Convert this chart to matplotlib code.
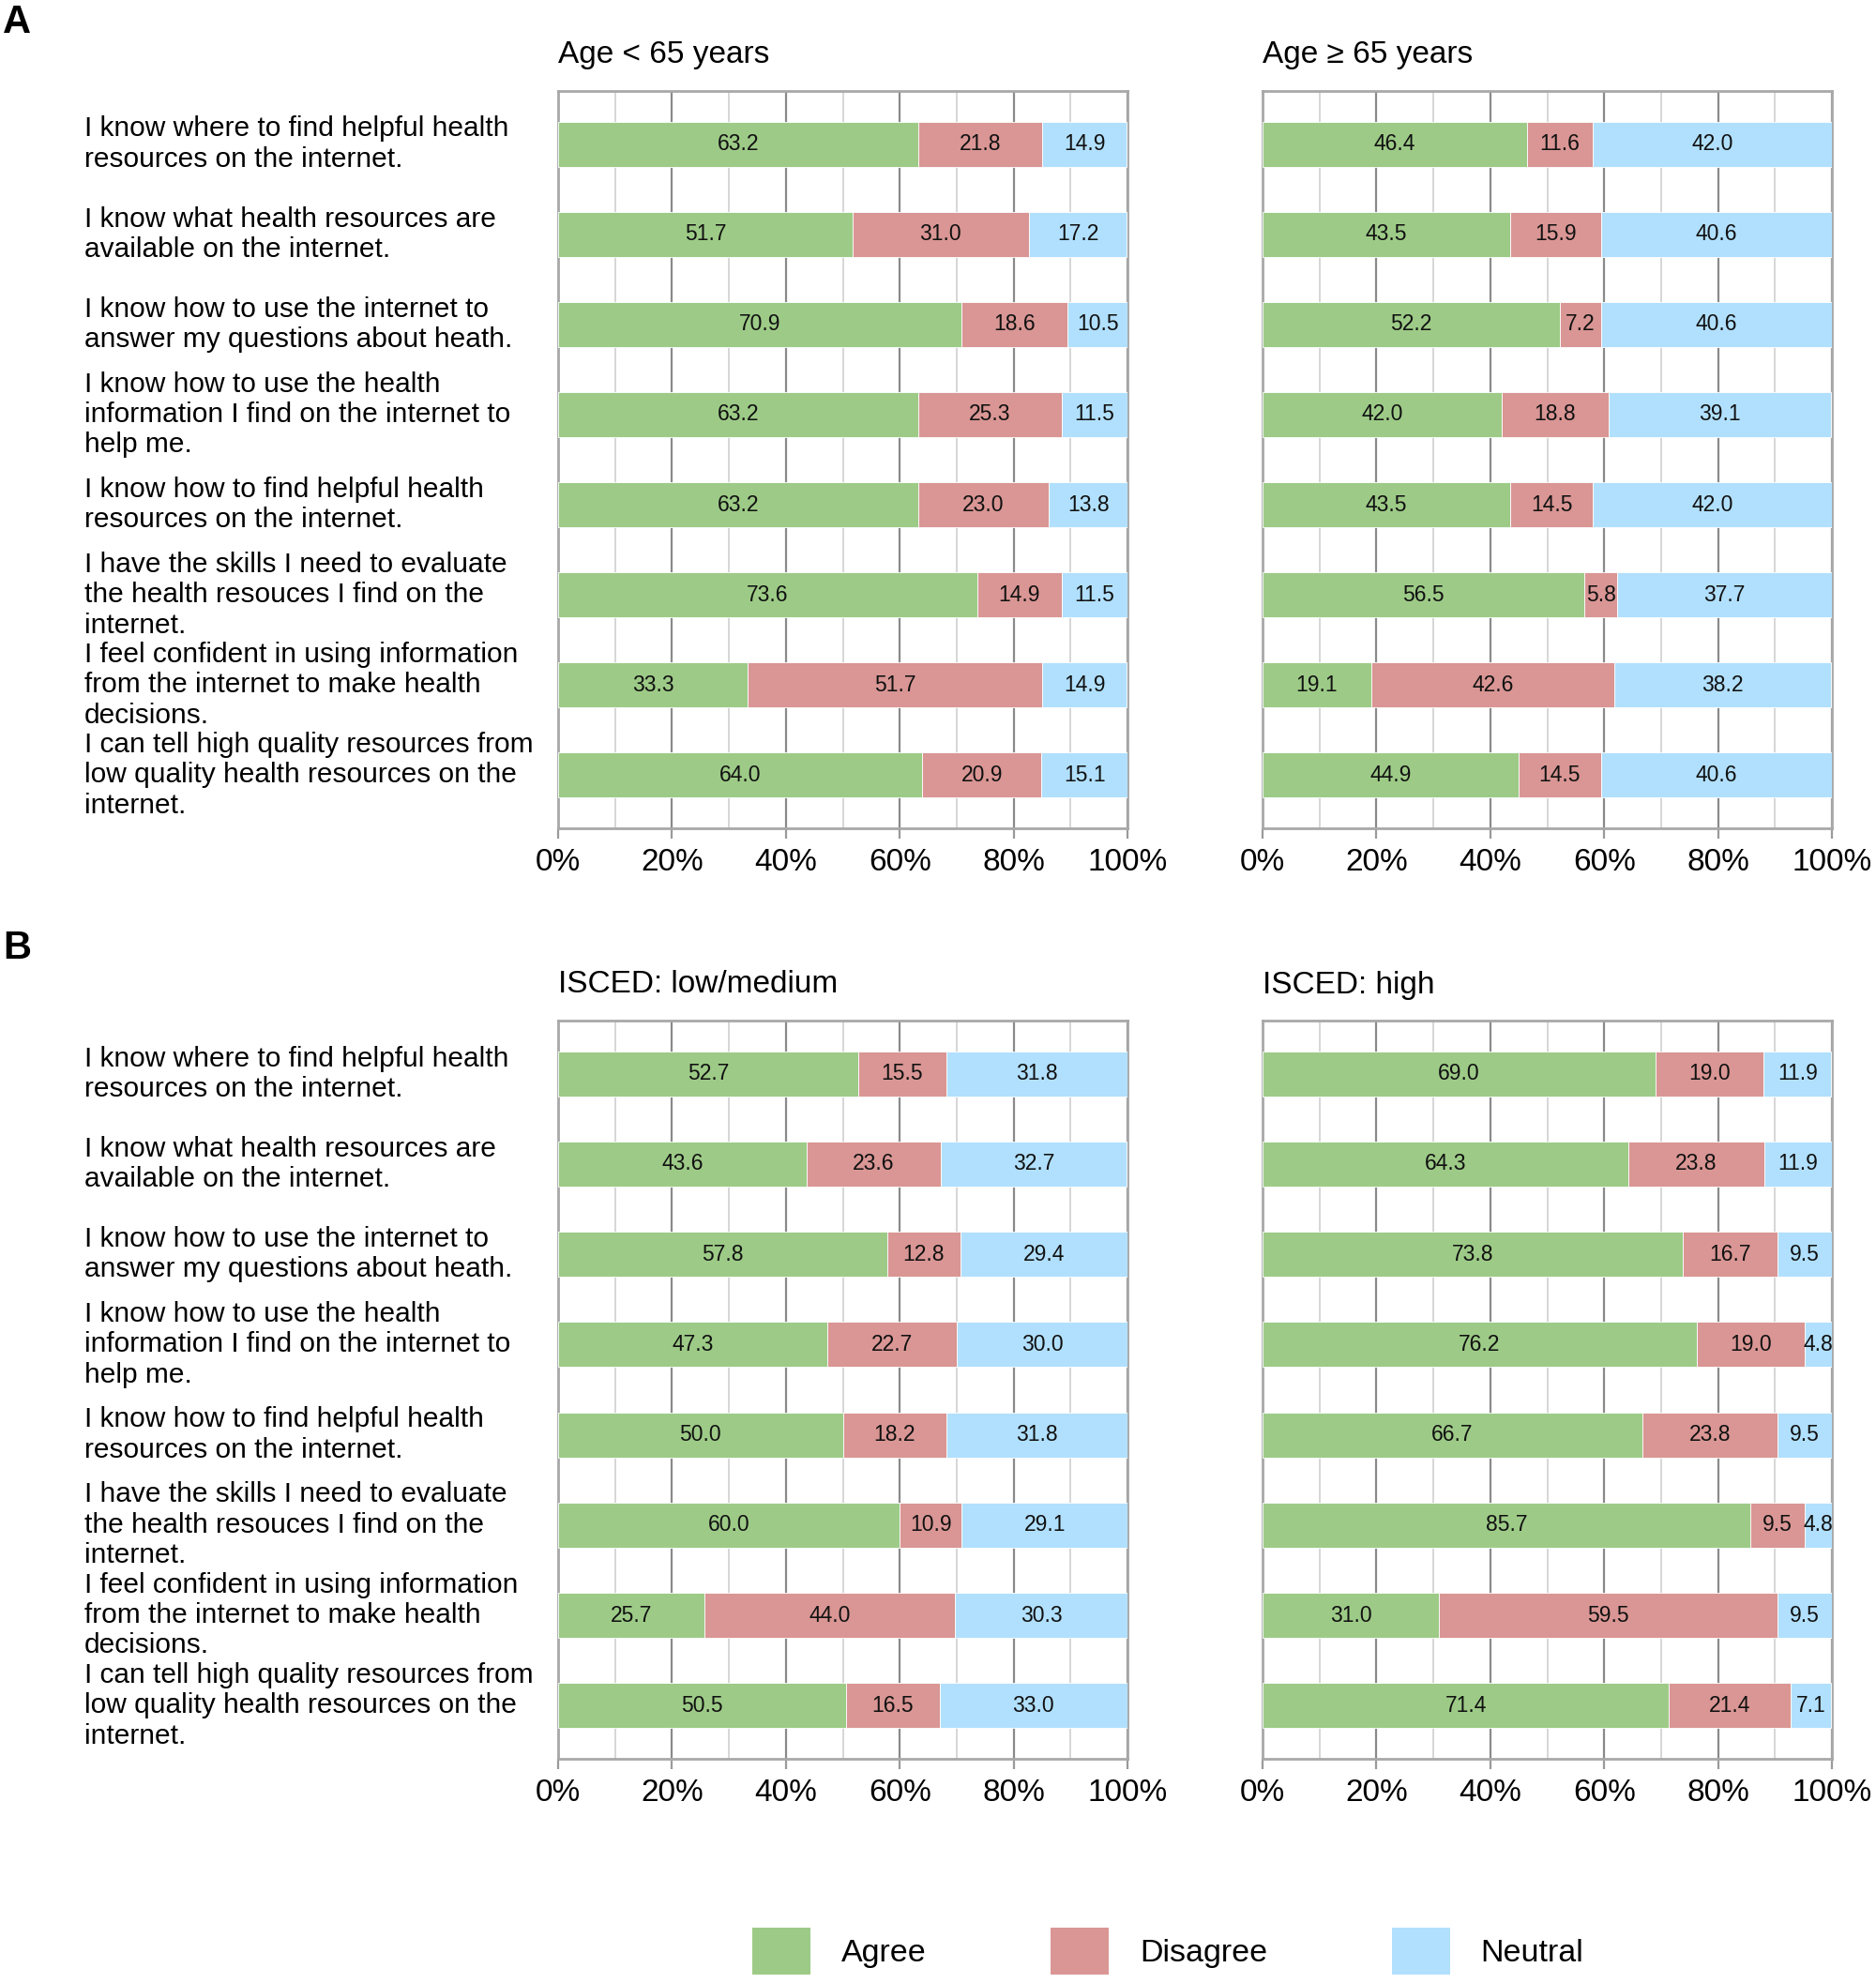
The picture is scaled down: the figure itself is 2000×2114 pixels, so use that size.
import matplotlib
matplotlib.use('Agg')
import matplotlib.pyplot as plt
import matplotlib.transforms as mtrans
from matplotlib.patches import Patch
from matplotlib.ticker import MultipleLocator, PercentFormatter
import numpy as np

plt.rcParams['font.family'] = ['Liberation Sans', 'DejaVu Sans']

statements = [
    "I know where to find helpful health\nresources on the internet.",
    "I know what health resources are\navailable on the internet.",
    "I know how to use the internet to\nanswer my questions about heath.",
    "I know how to use the health\ninformation I find on the internet to\nhelp me.",
    "I know how to find helpful health\nresources on the internet.",
    "I have the skills I need to evaluate\nthe health resouces I find on the\ninternet.",
    "I feel confident in using information\nfrom the internet to make health\ndecisions.",
    "I can tell high quality resources from\nlow quality health resources on the\ninternet.",
]
answers = ['Agree', 'Disagree', 'Neutral']
colors = ['#9dcb87', '#d99694', '#b1e0fe']

# Age < 65 years
young_agree = [63.2, 51.7, 70.9, 63.2, 63.2, 73.6, 33.3, 64.0]
young_disagree = [21.8, 31.0, 18.6, 25.3, 23.0, 14.9, 51.7, 20.9]
young_neutral = [14.9, 17.2, 10.5, 11.5, 13.8, 11.5, 14.9, 15.1]
# Age >= 65 years
old_agree = [46.4, 43.5, 52.2, 42.0, 43.5, 56.5, 19.1, 44.9]
old_disagree = [11.6, 15.9, 7.2, 18.8, 14.5, 5.8, 42.6, 14.5]
old_neutral = [42.0, 40.6, 40.6, 39.1, 42.0, 37.7, 38.2, 40.6]
# ISCED low/medium
low_agree = [52.7, 43.6, 57.8, 47.3, 50.0, 60.0, 25.7, 50.5]
low_disagree = [15.5, 23.6, 12.8, 22.7, 18.2, 10.9, 44.0, 16.5]
low_neutral = [31.8, 32.7, 29.4, 30.0, 31.8, 29.1, 30.3, 33.0]
# ISCED high
high_agree = [69.0, 64.3, 73.8, 76.2, 66.7, 85.7, 31.0, 71.4]
high_disagree = [19.0, 23.8, 16.7, 19.0, 23.8, 9.5, 59.5, 21.4]
high_neutral = [11.9, 11.9, 9.5, 4.8, 9.5, 4.8, 9.5, 7.1]

panels = [
    ('Age < 65 years', [young_agree, young_disagree, young_neutral]),
    ('Age \u2265 65 years', [old_agree, old_disagree, old_neutral]),
    ('ISCED: low/medium', [low_agree, low_disagree, low_neutral]),
    ('ISCED: high', [high_agree, high_disagree, high_neutral]),
]

W, H = 2000, 2114
fig = plt.figure(figsize=(W / 100, H / 100), dpi=100)

col_x = [595, 1346]
row_y = [(97, 883), (1088, 1875)]
ax_w = 607

for k, (title, series) in enumerate(panels):
    r, c = divmod(k, 2)
    top, bot = row_y[r]
    ax = fig.add_axes([col_x[c] / W, 1 - bot / H, ax_w / W, (bot - top) / H])
    y = np.arange(len(statements))
    left = np.zeros(len(statements))
    for vals, name, col in zip(series, answers, colors):
        vals = np.array(vals)
        bars = ax.barh(y, vals, left=left, height=0.5, color=col,
                       edgecolor='white', linewidth=0.6, zorder=3, label=name)
        for b, v in zip(bars, vals):
            t = ax.text(b.get_x() + b.get_width() / 2, b.get_y() + b.get_height() / 2,
                        f'{v:.1f}', ha='center', va='center', fontsize=16.5,
                        color='#111111', zorder=4)
            t.set_clip_on(True)
        left += vals
    ax.set_xlim(0, 100)
    ax.set_ylim(len(statements) - 0.41, -0.59)
    ax.xaxis.set_major_locator(MultipleLocator(20))
    ax.xaxis.set_minor_locator(MultipleLocator(10))
    ax.xaxis.set_major_formatter(PercentFormatter(decimals=0))
    ax.grid(axis='x', which='major', color='#8a8a8a', linewidth=1.6, zorder=0)
    ax.grid(axis='x', which='minor', color='#d6d6d6', linewidth=1.4, zorder=0)
    ax.set_axisbelow(True)
    ax.set_yticks([])
    ax.tick_params(axis='x', which='major', length=8, width=1.6, color='#9a9a9a',
                   labelsize=24, pad=7)
    ax.tick_params(axis='x', which='minor', length=0)
    for s in ax.spines.values():
        s.set_color('#a8a8a8')
        s.set_linewidth(2)
    fig.text(col_x[c] / W, 1 - (top - 38) / H, title, fontsize=24,
             ha='left', va='center')
    if c == 0:
        tr = mtrans.blended_transform_factory(fig.transFigure, ax.transData)
        for i, s in enumerate(statements):
            ax.text(90 / W, i, s, transform=tr, ha='left', va='center',
                    fontsize=21.5, linespacing=1.2)

fig.text(3 / W, 1 - 24 / H, 'A', fontsize=30, fontweight='bold', ha='left', va='center')
fig.text(3 / W, 1 - 1011 / H, 'B', fontsize=30, fontweight='bold', ha='left', va='center')

handles = [Patch(facecolor=c, edgecolor='none') for c in colors]
fig.legend(handles, answers, loc='center', bbox_to_anchor=(1245 / W, 1 - 2080 / H),
           ncol=3, frameon=False, fontsize=24.5, handlelength=1.82, handleheight=1.85,
           handletextpad=0.97, columnspacing=3.9, borderpad=0)

fig.savefig('out.png', dpi=100)
